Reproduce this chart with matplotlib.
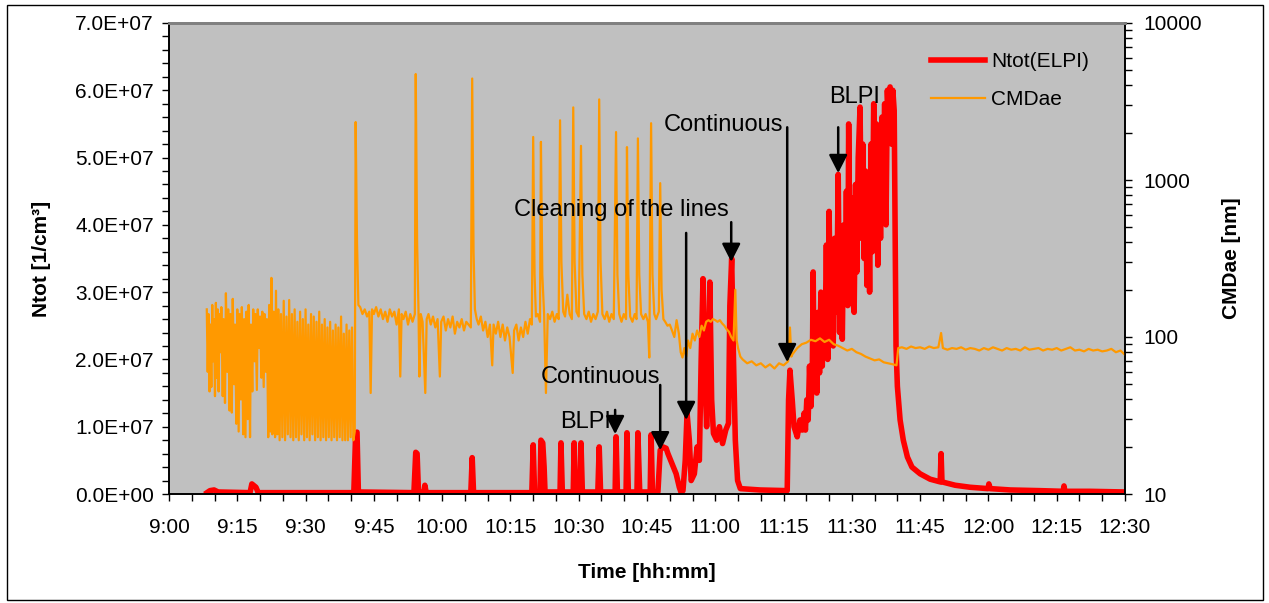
import numpy as np
import matplotlib
matplotlib.use("Agg")
import matplotlib.pyplot as plt
from matplotlib.patches import Rectangle
from matplotlib.ticker import MultipleLocator, FixedLocator, FuncFormatter, LogLocator, NullFormatter

plt.rcParams['font.family'] = ['Liberation Sans', 'DejaVu Sans']

# time axis: minutes after 9:00
tick_min = [0, 15, 30, 45, 60, 75, 90, 105, 120, 135, 150, 165, 180, 195, 210]
tick_lab = ['9:00', '9:15', '9:30', '9:45', '10:00', '10:15', '10:30', '10:45',
            '11:00', '11:15', '11:30', '11:45', '12:00', '12:15', '12:30']

# Ntot(ELPI) [1e6 1/cm3]
ntot_t = [8.35, 9.0, 9.9, 10.8, 17.8, 18.2, 19.1, 19.6,
          40.6, 41.0, 41.3, 41.6, 53.8, 54.2, 54.5, 54.8, 56.0, 56.2, 56.5,
          66.3, 66.6, 66.9, 79.7, 80.0, 80.3, 81.5, 81.7, 82.1, 82.4, 82.6,
          85.9, 86.1, 86.4, 88.8, 89.0, 89.3, 90.3, 90.5, 90.8,
          94.2, 94.5, 94.8, 98.0, 98.2, 98.5, 100.4, 100.6, 100.9,
          102.8, 103.0, 103.4, 105.7, 105.9, 106.2,
          107.4, 107.9, 108.5, 109.2, 109.6, 110.5, 111.4, 112.1, 112.5, 112.9,
          113.4, 113.8, 114.3, 114.7, 115.4, 116.0, 116.5, 116.9, 117.3, 117.6,
          118.1, 118.5, 118.8, 119.2, 119.6, 120.3, 120.9, 121.6, 122.3, 122.9,
          123.2, 123.6, 124.0, 124.4, 124.9, 125.5, 129.8, 135.8,
          136.1, 136.4, 136.9, 137.3, 138.0, 138.6, 139.1,
          139.5, 139.8, 140.1, 140.4, 140.7, 141.0, 141.3, 141.5, 141.7, 142.0,
          142.3, 142.6, 142.9, 143.2, 143.5, 143.8, 144.1, 144.4, 144.7, 145.0,
          145.3, 145.6, 145.9, 146.2, 146.5, 146.8, 147.0, 147.3, 147.6, 147.9,
          148.2, 148.5, 148.8, 149.1, 149.3, 149.6, 149.9, 150.2, 150.5, 150.8,
          151.1, 151.4, 151.8, 152.1, 152.4, 152.7, 153.0, 153.3, 153.6, 153.9,
          154.2, 154.5, 154.8, 155.1, 155.4, 155.7, 156.0, 156.3, 156.6, 156.9,
          157.2, 157.5, 157.8, 158.1, 158.4, 158.7, 159.0, 159.3, 159.5, 159.7,
          160.0, 160.6, 161.3, 162.2, 163.2, 165.0, 167.2,
          169.4, 169.6, 169.8, 172.7, 176.0, 179.9, 180.1, 180.4, 184.8, 191.3,
          196.4, 196.6, 196.8, 202.3, 210.0]
ntot_e6 = [0.2, 0.5, 0.6, 0.3, 0.2, 1.5, 1.0, 0.2,
           0.2, 9.0, 9.2, 0.3, 0.2, 6.2, 6.0, 0.3, 0.3, 1.3, 0.2,
           0.2, 5.4, 0.2, 0.2, 7.3, 0.3, 0.3, 8.0, 7.6, 4.0, 0.3,
           0.3, 7.6, 0.3, 0.3, 7.6, 0.3, 0.3, 7.6, 0.3,
           0.3, 7.0, 0.3, 0.3, 8.5, 0.3, 0.3, 9.1, 0.3,
           0.3, 9.1, 0.3, 0.3, 8.8, 0.3,
           0.3, 6.5, 7.0, 6.8, 6.0, 4.5, 3.0, 1.0, 0.2, 0.5,
           5.0, 12.0, 8.0, 2.0, 3.0, 7.0, 5.0, 20.0, 32.0, 20.0,
           10.0, 22.0, 31.5, 14.0, 9.0, 8.0, 10.0, 7.5, 9.5, 10.5,
           28.0, 35.0, 20.0, 8.0, 2.0, 0.8, 0.6, 0.5,
           14.0, 18.4, 14.0, 10.0, 8.5, 11.0, 9.5,
           12.0, 9.5, 14.0, 11.0, 19.0, 13.0, 17.0, 33.0, 16.0, 24.0,
           15.0, 27.0, 18.0, 30.0, 19.0, 28.0, 22.0, 37.0, 20.0, 42.0,
           26.0, 33.0, 22.0, 38.0, 27.0, 35.0, 47.5, 24.0, 36.0, 23.0,
           40.0, 30.0, 45.0, 28.0, 55.0, 32.0, 44.0, 29.0, 27.0, 46.0,
           33.0, 50.0, 57.5, 38.0, 52.0, 35.0, 48.0, 31.0, 47.0, 30.0,
           52.0, 36.0, 58.0, 42.0, 55.0, 34.0, 50.0, 38.0, 56.0, 43.0,
           58.0, 40.0, 60.0, 55.0, 60.5, 52.0, 60.0, 57.0, 40.0, 22.0,
           16.0, 11.0, 8.0, 5.5, 4.0, 3.0, 2.2,
           1.8, 6.0, 1.8, 1.3, 1.0, 0.8, 1.5, 0.8, 0.6, 0.5,
           0.4, 1.2, 0.4, 0.4, 0.3]

# CMDae [nm]
cmd_t = [8.3, 8.5, 8.7, 8.9, 9.1, 9.3, 9.5, 9.7, 9.9, 10.1, 10.3, 10.5, 10.7, 10.9,
         11.1, 11.3, 11.5, 11.8, 12.0, 12.3, 12.5, 12.8, 13.0, 13.3, 13.5, 13.8,
         14.0, 14.3, 14.5, 14.8, 15.0, 15.3, 15.5, 15.8, 16.0, 16.3, 16.5, 16.8,
         17.0, 17.3, 17.5, 17.8, 18.0, 18.3, 18.5, 18.8, 19.0, 19.3, 19.5, 19.8,
         20.0, 20.3, 20.5, 20.8, 21.0, 21.3, 21.5, 21.8, 22.0, 22.3, 22.5, 22.7,
         23.0, 23.3, 23.5, 23.8, 24.0, 24.3, 24.6, 24.9, 25.2, 25.5, 25.8, 26.1,
         26.4, 26.7, 27.0, 27.3, 27.6, 27.9, 28.2, 28.5, 28.8, 29.1, 29.4, 29.7,
         30.0, 30.3, 30.6, 30.9, 31.2, 31.5, 31.8, 32.1, 32.4, 32.7, 33.0, 33.3,
         33.6, 33.9, 34.2, 34.5, 34.8, 35.1, 35.4, 35.7, 36.0, 36.3, 36.6, 36.9,
         37.2, 37.5, 37.8, 38.1, 38.4, 38.7, 39.0, 39.3, 39.6, 39.9, 40.2, 40.5,
         40.8, 41.0, 41.3, 41.6,
         42.0, 42.5, 43.0, 43.5, 44.0, 44.3, 44.6, 45.0, 45.5, 46.0, 46.5, 47.0,
         47.5, 48.0, 48.5, 49.0, 49.5, 50.0, 50.5, 50.8, 51.1, 51.5, 52.0, 52.5,
         53.0, 53.5, 54.0, 54.2, 54.5, 54.8, 55.0, 55.3, 55.7, 56.3, 56.6, 57.0,
         57.5, 58.0, 58.5, 59.0, 59.5, 59.8, 60.3, 60.8, 61.3, 61.8, 62.3, 62.8,
         63.3, 63.8, 64.3, 64.8, 65.3, 65.8, 66.3, 66.6, 66.9, 67.2, 67.6, 68.0,
         68.5, 69.0, 69.5, 70.0, 70.5, 71.0, 71.3, 71.8, 72.3, 72.8, 73.3, 73.8,
         74.3, 74.8, 75.5, 75.8, 76.3, 76.8, 77.3, 77.8, 78.3, 78.8, 79.3, 79.7,
         80.0, 80.3, 80.6, 81.0, 81.5, 81.7, 82.0, 82.4, 82.8, 83.2, 83.7, 84.2,
         84.7, 85.2, 85.6, 85.9, 86.2, 86.6, 87.0, 87.5, 88.0, 88.5, 88.8, 89.1,
         89.5, 90.0, 90.5, 90.8, 91.2, 91.7, 92.2, 92.7, 93.2, 93.7, 94.2, 94.5,
         94.8, 95.2, 95.7, 96.2, 96.7, 97.2, 97.7, 98.2, 98.5, 98.9, 99.4, 99.9,
         100.4, 100.6, 100.9, 101.3, 101.8, 102.3, 102.7, 103.0, 103.3, 103.7,
         104.2, 104.7, 105.2, 105.5, 105.9, 106.2, 106.6, 107.0, 107.6, 107.9,
         108.2, 108.6, 109.0, 109.5, 110.0, 110.5, 111.0, 111.5, 112.0, 112.4,
         112.8, 113.2, 113.6, 114.0, 114.5, 115.0, 115.5, 116.0, 116.5, 117.0,
         117.5, 118.0, 118.5, 119.0, 119.5, 120.0, 120.5, 121.0, 121.5, 122.0,
         122.5, 123.0, 123.5, 124.0, 124.4, 124.7, 125.0, 125.5, 126.0, 127.0,
         128.0, 129.0, 130.0, 131.0, 132.0, 133.0, 134.0, 135.0, 136.0, 136.4,
         136.7, 137.0, 138.0, 139.0, 140.0, 141.0, 142.0, 143.0, 144.0, 145.0,
         146.0, 147.0, 148.0, 149.0, 150.0, 151.0, 152.0, 153.0, 154.0, 155.0,
         156.0, 157.0, 158.0, 159.0, 159.8, 160.2, 161.0, 162.0, 163.0, 164.0,
         165.0, 166.0, 167.0, 168.0, 169.0, 169.6, 170.0, 171.0, 172.0, 173.0,
         174.0, 175.0, 176.0, 177.0, 178.0, 179.0, 180.0, 181.0, 182.0, 183.0,
         184.0, 185.0, 186.0, 187.0, 188.0, 189.0, 190.0, 191.0, 192.0, 193.0,
         194.0, 195.0, 196.0, 197.0, 198.0, 199.0, 200.0, 201.0, 202.0, 203.0,
         204.0, 205.0, 206.0, 207.0, 208.0, 209.0, 210.0]
cmd_nm = [150, 60, 140, 45, 120, 48, 160, 70, 130, 42, 165, 55, 150, 45,
          140, 80, 155, 42, 130, 38, 190, 60, 150, 34, 140, 33,
          175, 50, 120, 28, 150, 25, 140, 40, 155, 24, 130, 23,
          145, 30, 160, 23, 120, 45, 150, 70, 140, 46, 150, 85,
          135, 55, 145, 48, 140, 60, 130, 23, 160, 25, 238, 24,
          145, 23, 197, 24, 150, 22, 140, 23, 170, 22, 135, 24,
          172, 23, 140, 22, 150, 23, 125, 22, 145, 24, 130, 22,
          150, 23, 120, 22, 140, 24, 135, 22, 125, 23, 145, 22,
          120, 23, 130, 22, 115, 23, 125, 22, 110, 23, 120, 22,
          115, 23, 135, 22, 105, 22, 120, 22, 110, 23, 115, 22,
          25, 2340, 400, 160,
          155, 140, 150, 135, 145, 44, 150, 140, 155, 135, 150, 130,
          145, 125, 150, 135, 145, 120, 150, 56, 140, 130, 145, 120,
          140, 125, 140, 4730, 400, 150, 56, 140, 125, 44, 130, 140,
          120, 135, 115, 130, 56, 125, 135, 110, 130, 115, 135, 105,
          125, 115, 130, 110, 125, 120, 115, 4430, 350, 150, 130, 120,
          135, 110, 125, 100, 120, 66, 120, 105, 125, 100, 120, 95,
          115, 100, 59, 110, 120, 95, 115, 100, 125, 105, 130, 120,
          1880, 250, 135, 140, 125, 1750, 250, 140, 44, 140, 130, 145,
          125, 140, 130, 2400, 300, 145, 135, 186, 140, 130, 2900, 300,
          145, 135, 1650, 250, 140, 130, 145, 125, 140, 130, 145, 3260,
          300, 140, 130, 145, 125, 140, 130, 2020, 250, 140, 125, 140,
          130, 1620, 250, 135, 125, 140, 130, 1840, 250, 140,
          130, 140, 125, 74, 2300, 250, 140, 130, 145, 955,
          200, 130, 125, 118, 120, 110, 100, 128, 105, 80,
          74, 85, 75, 95, 85, 105, 95, 110, 100, 118,
          110, 125, 128, 125, 130, 128, 125, 128, 122, 118,
          112, 108, 100, 95, 200, 95, 85, 75, 72, 68,
          70, 66, 68, 64, 67, 63, 68, 66, 70, 115,
          75, 78, 85, 90, 92, 96, 94, 98, 93, 96,
          90, 88, 85, 82, 84, 80, 78, 75, 73, 71,
          72, 69, 68, 67, 66, 85, 86, 84, 87, 85,
          86, 84, 87, 85, 86, 106, 85, 83, 85, 84,
          86, 83, 85, 84, 82, 85, 83, 86, 84, 82,
          85, 83, 84, 82, 86, 83, 84, 85, 82, 84,
          83, 85, 82, 84, 86, 82, 83, 81, 84, 82,
          83, 81, 82, 84, 80, 82, 77]

ntot = np.array(ntot_e6) * 1e6

fig = plt.figure(figsize=(12.69, 6.03), dpi=100)
ax = fig.add_axes([169 / 1269, 109 / 603, 956 / 1269, 471 / 603])
ax2 = ax.twinx()
ax.set_zorder(1)
ax2.set_zorder(2)
ax2.patch.set_visible(False)
ax.set_facecolor('#c0c0c0')

l1, = ax.plot(ntot_t, ntot, color='#ff0000', lw=4, solid_joinstyle='round',
              label='Ntot(ELPI)')
l2, = ax2.plot(cmd_t, cmd_nm, color='#ff9900', lw=1.6, label='CMDae')

ax.set_xlim(0, 210)
ax.set_ylim(0, 7e7)
ax2.set_yscale('log')
ax2.set_ylim(10, 10000)

ax.xaxis.set_major_locator(FixedLocator(tick_min))
ax.set_xticklabels(tick_lab)
ax.xaxis.set_minor_locator(MultipleLocator(5))
ax.yaxis.set_major_locator(MultipleLocator(1e7))
ax.yaxis.set_minor_locator(MultipleLocator(2e6))
ax.yaxis.set_major_formatter(FuncFormatter(lambda v, p: '{:.1E}'.format(v)))
ax2.yaxis.set_major_locator(FixedLocator([10, 100, 1000, 10000]))
ax2.yaxis.set_major_formatter(FuncFormatter(lambda v, p: '%d' % v))
ax2.yaxis.set_minor_locator(LogLocator(base=10, subs=np.arange(2, 10)))
ax2.yaxis.set_minor_formatter(NullFormatter())

ax.tick_params(axis='y', which='major', direction='out', length=5, width=1,
               labelsize=15, pad=6)
ax.tick_params(axis='x', which='major', direction='out', length=5, width=1,
               labelsize=15, pad=12)
ax.tick_params(axis='x', which='minor', direction='out', length=5, width=1)
ax.tick_params(axis='y', which='minor', direction='out', length=5, width=1)
ax2.tick_params(axis='y', which='major', direction='out', length=5, width=1,
                labelsize=15, pad=8)
ax2.tick_params(axis='y', which='minor', direction='out', length=5, width=1)

for a in (ax, ax2):
    for s in a.spines.values():
        s.set_color('black')
        s.set_linewidth(1.2)
    a.spines['top'].set_color('#808080')
    a.spines['top'].set_linewidth(2)

ax.set_xlabel('Time [hh:mm]', fontsize=15, fontweight='bold')
ax.set_ylabel('Ntot [1/cm³]', fontsize=15, fontweight='bold')
ax2.set_ylabel('CMDae [nm]', fontsize=15, fontweight='bold')
ax.xaxis.set_label_coords(0.5, -0.146)
ax.yaxis.set_label_coords(-0.123, 0.5)
ax2.yaxis.set_label_coords(1.101, 0.5)

ax2.legend(handles=[l1, l2], loc='upper right', bbox_to_anchor=(0.982, 0.978),
           frameon=False, fontsize=15, handlelength=2.6, handletextpad=0.3,
           labelspacing=0.9)

# annotations (text in Ntot data coordinates)
tr = ax.transData
txt_kw = dict(fontsize=17, ha='center', va='center', color='black', zorder=5)
ax2.text(99.3, 4.22e7, 'Cleaning of the lines', transform=tr, **txt_kw)
ax2.text(121.7, 5.48e7, 'Continuous', transform=tr, **txt_kw)
ax2.text(150.5, 5.9e7, 'BLPI', transform=tr, **txt_kw)
ax2.text(94.7, 1.74e7, 'Continuous', transform=tr, **txt_kw)
ax2.text(91.6, 1.07e7, 'BLPI', transform=tr, **txt_kw)

arrows = [((113.6, 3.88e7), (113.6, 1.10e7)),
          ((123.5, 4.04e7), (123.5, 3.45e7)),
          ((135.8, 5.45e7), (135.8, 1.96e7)),
          ((147.0, 5.45e7), (147.0, 4.77e7)),
          ((107.9, 1.62e7), (107.9, 6.5e6)),
          ((98.0, 1.25e7), (98.0, 8.9e6))]
for tail, tip in arrows:
    ax2.annotate('', xy=tip, xytext=tail, xycoords=tr, textcoords=tr,
                 arrowprops=dict(arrowstyle='-|>,head_length=0.55,head_width=0.28',
                                 mutation_scale=20, color='black', lw=1.8,
                                 shrinkA=0, shrinkB=0), zorder=5)

fig.patches.append(Rectangle((7 / 1269, 3 / 603), 1256 / 1269, 595 / 603,
                             transform=fig.transFigure, fill=False,
                             edgecolor='black', lw=1))

fig.savefig('out.png', dpi=100)
